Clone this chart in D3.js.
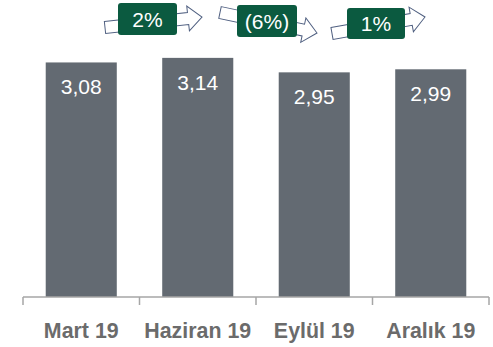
<!DOCTYPE html>
<html>
<head>
<meta charset="utf-8">
<script src="https://cdn.jsdelivr.net/npm/d3@7/dist/d3.min.js"></script>
<style>
  html, body { margin: 0; padding: 0; background: #ffffff; }
  svg { display: block; }
</style>
</head>
<body>
<svg id="chart" width="493" height="347"></svg>
<script>
// Quarterly values
const categories = ["Mart 19", "Haziran 19", "Eylül 19", "Aralık 19"];
const values = [3.08, 3.14, 2.95, 2.99];
// Quarter-over-quarter change labels (percent)
const changes = [2, -6, 1];

const W = 493, H = 347;
const baseY = 297;
const svg = d3.select("#chart");

const x = d3.scaleBand()
  .domain(categories)
  .range([23, 489])
  .paddingInner(0.39)
  .paddingOuter(0.195);

const y = d3.scaleLinear().domain([0, 3.9]).range([baseY, 0]);

const fmtVal = d3.formatLocale({ decimal: ",", thousands: ".", grouping: [3], currency: ["", ""] }).format(".2f");
const fmtChg = v => v < 0 ? `(${Math.abs(v)}%)` : `${v}%`;

// Bars
svg.append("g").selectAll("rect")
  .data(values)
  .join("rect")
  .attr("x", (d, i) => x(categories[i]))
  .attr("y", d => y(d))
  .attr("width", x.bandwidth())
  .attr("height", d => baseY - y(d))
  .attr("fill", "#636a72");

// Value labels inside the bars
svg.append("g").selectAll("text")
  .data(values)
  .join("text")
  .attr("x", (d, i) => x(categories[i]) + x.bandwidth() / 2)
  .attr("y", d => y(d) + 32)
  .attr("text-anchor", "middle")
  .attr("fill", "#ffffff")
  .style("font-family", "'Liberation Sans', Arial, sans-serif")
  .style("font-size", "21px")
  .text(d => fmtVal(d));

// Category axis: baseline with boundary ticks
const step = x.step();
const x0 = x.range()[0];
const boundaries = d3.range(categories.length + 1).map(i => x0 + i * step);
const axis = svg.append("g").attr("stroke", "#a6a6a6").attr("stroke-width", 1.5);
axis.append("line")
  .attr("x1", boundaries[0]).attr("x2", boundaries[boundaries.length - 1])
  .attr("y1", baseY).attr("y2", baseY);
axis.selectAll("line.tick")
  .data(boundaries)
  .join("line")
  .attr("class", "tick")
  .attr("x1", d => d).attr("x2", d => d)
  .attr("y1", baseY).attr("y2", baseY + 8);

// Category labels, slightly condensed bold
svg.append("g").selectAll("text")
  .data(categories)
  .join("text")
  .attr("transform", d => `translate(${x(d) + x.bandwidth() / 2},338) scale(0.95,1)`)
  .attr("text-anchor", "middle")
  .attr("fill", "#6b6b6b")
  .style("font-family", "'Liberation Sans', Arial, sans-serif")
  .style("font-size", "22.5px")
  .style("font-weight", "bold")
  .text(d => d);

// Change badges: outlined block arrow behind a green rounded label
const badgeLayout = [
  { tail: [105, 27.5], tip: [202, 17], box: [118, 3, 59, 32] },
  { tail: [220, 12.5], tip: [317, 33], box: [237, 5, 60, 32] },
  { tail: [332, 33.5], tip: [425, 17], box: [347, 8, 58, 31] }
];

const shaft = 6, head = 12.5, headLen = 14;
const badges = svg.append("g").selectAll("g")
  .data(changes)
  .join("g");

badges.each(function (d, i) {
  const g = d3.select(this);
  const L = badgeLayout[i];
  const dx = L.tip[0] - L.tail[0], dy = L.tip[1] - L.tail[1];
  const len = Math.hypot(dx, dy);
  const ang = Math.atan2(dy, dx) * 180 / Math.PI;
  const pts = [
    [0, -shaft], [len - headLen, -shaft], [len - headLen, -head], [len, 0],
    [len - headLen, head], [len - headLen, shaft], [0, shaft]
  ];
  g.append("polygon")
    .attr("points", pts.map(p => p.join(",")).join(" "))
    .attr("transform", `translate(${L.tail[0]},${L.tail[1]}) rotate(${ang})`)
    .attr("fill", "#ffffff")
    .attr("stroke", "#4f5f80")
    .attr("stroke-width", 1);
  const [bx, by, bw, bh] = L.box;
  g.append("rect")
    .attr("x", bx).attr("y", by).attr("width", bw).attr("height", bh)
    .attr("rx", 3).attr("ry", 3)
    .attr("fill", "#0b5a40");
  g.append("text")
    .attr("x", bx + bw / 2)
    .attr("y", by + bh / 2 + 7.5)
    .attr("text-anchor", "middle")
    .attr("fill", "#ffffff")
    .style("font-family", "'Liberation Sans', Arial, sans-serif")
    .style("font-size", "21px")
    .text(fmtChg(d));
});
</script>
</body>
</html>
